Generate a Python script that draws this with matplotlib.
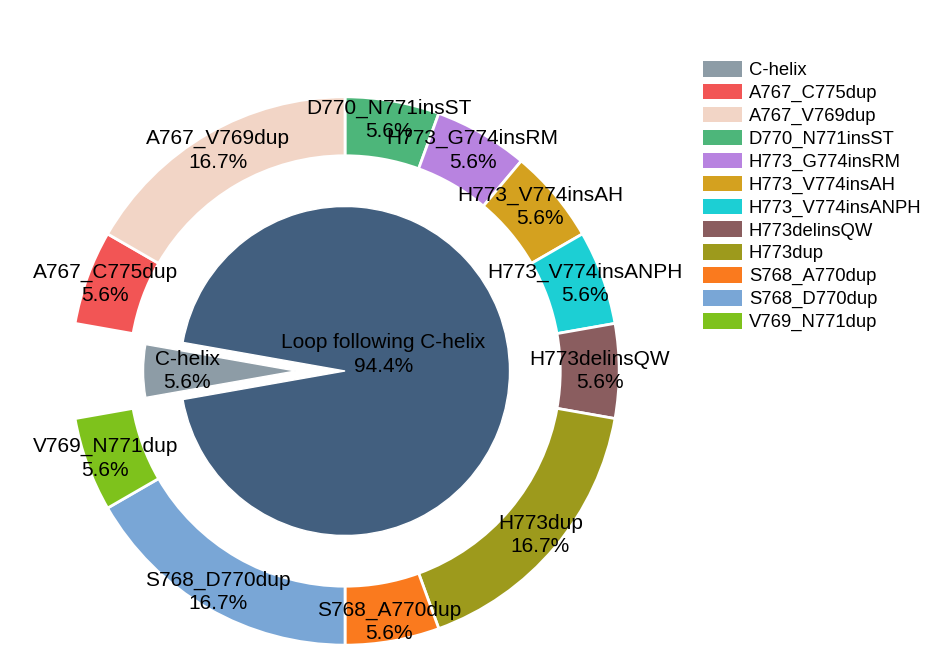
import matplotlib
matplotlib.use('Agg')
import matplotlib.pyplot as plt
from matplotlib.patches import Patch

plt.rcParams['font.family'] = ['Liberation Sans', 'DejaVu Sans']

# inner pie
inner_names = ['C-helix', 'Loop following C-helix']
inner_values = [1, 17]
inner_colors = ['#8d9ca6', '#425f7f']

# outer ring, clockwise from 12 o'clock ('C-helix' slot is left empty)
outer_names = ['D770_N771insST', 'H773_G774insRM', 'H773_V774insAH', 'H773_V774insANPH',
               'H773delinsQW', 'H773dup', 'S768_A770dup', 'S768_D770dup', 'V769_N771dup',
               'C-helix', 'A767_C775dup', 'A767_V769dup']
outer_values = [1, 1, 1, 1, 1, 3, 1, 3, 1, 1, 1, 3]
outer_colors = ['#4db67a', '#b883e0', '#d4a11f', '#1ccfd4', '#8a5d5f', '#9d9a1c',
                '#fa7a1e', '#79a6d6', '#7ec21c', 'none', '#f25555', '#f2d5c6']

legend_names = ['C-helix', 'A767_C775dup', 'A767_V769dup', 'D770_N771insST', 'H773_G774insRM',
                'H773_V774insAH', 'H773_V774insANPH', 'H773delinsQW', 'H773dup',
                'S768_A770dup', 'S768_D770dup', 'V769_N771dup']

fig = plt.figure(figsize=(9.32, 6.6), dpi=100)
ax = fig.add_axes([0.0172, -0.0606, 0.706, 0.997])

tot = sum(outer_values)
outer_labels = []
for n, v in zip(outer_names, outer_values):
    if n == 'C-helix':
        outer_labels.append('')
    else:
        outer_labels.append('%s\n%.1f%%' % (n, v / tot * 100))

wedges, texts = ax.pie(outer_values, radius=1, colors=outer_colors, startangle=90,
                       counterclock=False, labels=outer_labels, labeldistance=0.93,
                       wedgeprops=dict(width=0.215, edgecolor='white', linewidth=2),
                       textprops=dict(fontsize=15, ha='center', va='center', linespacing=1.3))
wedges[outer_names.index('C-helix')].set_edgecolor('none')

itot = sum(inner_values)
inner_labels = ['%s\n%.1f%%' % (n, v / itot * 100) for n, v in zip(inner_names, inner_values)]
iw, itexts = ax.pie(inner_values, radius=0.6, colors=inner_colors, startangle=190,
                    counterclock=False, explode=[0.18, 0], labels=inner_labels,
                    labeldistance=0.66,
                    wedgeprops=dict(edgecolor='white', linewidth=1),
                    textprops=dict(fontsize=15, ha='center', va='center', linespacing=1.3))
# the pulled-out slice is drawn a little smaller
iw[0].set_radius(0.555)
# move loop label a bit toward the center
itexts[1].set_position((0.14, 0.06))

ax.set_xlim(-1.2, 1.2)
ax.set_ylim(-1.2, 1.2)
ax.set_aspect('equal')
ax.axis('off')

color_of = dict(zip(outer_names, outer_colors))
color_of['C-helix'] = inner_colors[0]
handles = [Patch(facecolor=color_of[n], edgecolor='none', label=n) for n in legend_names]
fig.legend(handles=handles, loc='upper left', bbox_to_anchor=(703 / 932, 1 - 61 / 660),
           frameon=False, fontsize=13.3, handlelength=2.1, handleheight=0.92,
           handletextpad=0.38, labelspacing=0.25, borderpad=0, borderaxespad=0)

fig.savefig('out.png', dpi=100)
